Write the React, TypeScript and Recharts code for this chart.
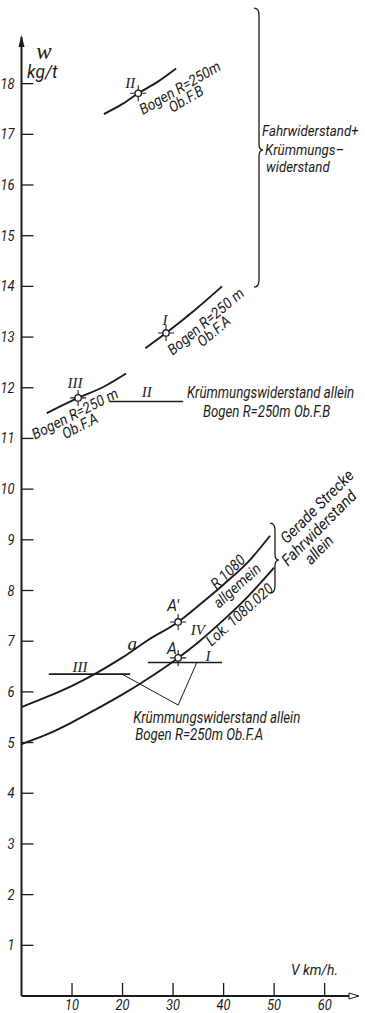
import { ComposedChart, Line, XAxis, YAxis, Scatter, ReferenceDot } from "recharts";

document.body.style.margin = "0";

// axis ticks
const V_TICKS = [10, 20, 30, 40, 50, 60];
const W_TICKS = [1, 2, 3, 4, 5, 6, 7, 8, 9, 10, 11, 12, 13, 14, 15, 16, 17, 18];

// straight track, R 1080 allgemein (curve a)
const allgV = [0, 5, 10, 15, 20, 25, 31, 35, 40, 45, 49.2];
const allgW = [5.7, 5.9, 6.12, 6.38, 6.68, 7.02, 7.38, 7.7, 8.12, 8.58, 9.08];

// straight track, Lok. 1080.020
const lokV = [0, 5, 10, 15, 20, 25, 31, 35, 40, 45, 50];
const lokW = [4.97, 5.16, 5.4, 5.67, 5.95, 6.26, 6.67, 6.98, 7.42, 7.9, 8.45];

// curve R=250m, running + curve resistance
const bogenIIV = [16.3, 20, 23.1, 27, 30.6];
const bogenIIW = [17.4, 17.6, 17.81, 18.04, 18.3];
const bogenIV = [24.5, 28.6, 34.5, 39.7];
const bogenIW = [12.78, 13.08, 13.55, 14.0];
const bogenIIIV = [5.0, 11.2, 16.1, 20.7];
const bogenIIIW = [11.5, 11.8, 12.01, 12.28];

// curve resistance alone (horizontal)
const kwIIV = [17.5, 32];
const kwIIW = [11.73, 11.73];
const kwIIIV = [5.4, 21.5];
const kwIIIW = [6.35, 6.35];
const kwIV = [25, 39.7];
const kwIW = [6.58, 6.58];

// leader lines to the lower note
const leaderV = [19.9, 31, 34.7];
const leaderW = [6.35, 5.74, 6.58];

// marked points A', A, II, I, III
const markV = [31, 31, 23.1, 28.6, 11.2];
const markW = [7.38, 6.67, 17.81, 13.08, 11.8];

const zip = (vs: number[], ws: number[]) => vs.map((v, i) => ({ v, w: ws[i] }));

const INK = "#1b1b1b";
const SANS = "Roboto, 'DejaVu Sans Condensed', sans-serif";
const SERIF = "'Liberation Serif', 'DejaVu Serif', serif";
const SQUEEZE = 0.92;

const XTick = ({ x, y, payload }: any) => (
  <g>
    <line x1={x} y1={y} x2={x} y2={y - 13} stroke={INK} strokeWidth={1.3} />
    <text
      transform={`translate(${x} ${y + 14}) scale(${SQUEEZE} 1)`}
      textAnchor="middle"
      fontFamily={SANS}
      fontStyle="italic"
      fontSize={14}
      fill={INK}
    >
      {payload.value}
    </text>
  </g>
);

const YTick = ({ x, y, payload }: any) => (
  <g>
    <line x1={x} y1={y} x2={x + 12} y2={y} stroke={INK} strokeWidth={1.3} />
    <text
      transform={`translate(${x - 7} ${y + 5}) scale(${SQUEEZE} 1)`}
      textAnchor="end"
      fontFamily={SANS}
      fontStyle="italic"
      fontSize={14}
      fill={INK}
    >
      {payload.value}
    </text>
  </g>
);

const Mark = ({ cx, cy }: any) => (
  <g stroke={INK} strokeWidth={1.1}>
    <line x1={cx - 8} y1={cy} x2={cx - 3} y2={cy} />
    <line x1={cx + 3} y1={cy} x2={cx + 8} y2={cy} />
    <line x1={cx} y1={cy - 8} x2={cx} y2={cy - 3} />
    <line x1={cx} y1={cy + 3} x2={cx} y2={cy + 8} />
    <circle cx={cx} cy={cy} r={3.2} fill="#fff" strokeWidth={1.3} />
  </g>
);

type NoteOpts = { angle?: number; size?: number; anchor?: string; serif?: boolean; sx?: number };

const note = (key: string, v: number, w: number, text: string, o: NoteOpts = {}) => (
  <ReferenceDot
    key={key}
    x={v}
    y={w}
    r={0}
    ifOverflow="visible"
    shape={(p: any) => (
      <text
        transform={`translate(${p.cx} ${p.cy}) rotate(${o.angle ?? 0}) scale(${o.sx ?? (o.serif ? 1 : SQUEEZE)} 1)`}
        textAnchor={o.anchor ?? "middle"}
        dominantBaseline={o.anchor === "start" ? "auto" : "central"}
        fontFamily={o.serif ? SERIF : SANS}
        fontStyle="italic"
        fontSize={o.size ?? 14}
        fill={INK}
      >
        {text}
      </text>
    )}
  />
);

const bracePath = (h1: number, h2: number) =>
  `M -9 ${-h1} Q -4 ${-h1} -4 ${-h1 + 7} L -4 -6 Q -4 0 0 0 Q -4 0 -4 6 L -4 ${h2 - 7} Q -4 ${h2} -9 ${h2}`;

const brace = (key: string, v: number, w: number, h1: number, h2: number) => (
  <ReferenceDot
    key={key}
    x={v}
    y={w}
    r={0}
    ifOverflow="visible"
    shape={(p: any) => (
      <path d={bracePath(h1, h2)} transform={`translate(${p.cx} ${p.cy})`} fill="none" stroke={INK} strokeWidth={1.3} />
    )}
  />
);

const curve = (key: string, vs: number[], ws: number[], type: "monotone" | "linear" = "monotone", width = 1.9) => (
  <Line
    key={key}
    data={zip(vs, ws)}
    dataKey="w"
    type={type}
    stroke={INK}
    strokeWidth={width}
    dot={false}
    activeDot={false}
    isAnimationActive={false}
  />
);

export default function App() {
  return (
    <div style={{ width: 365, height: 1013, background: "#fff" }}>
      <ComposedChart width={365} height={1013} margin={{ top: 37, right: 7, bottom: 0, left: 0 }}>
        <XAxis
          dataKey="v"
          type="number"
          domain={[0, 66.6]}
          ticks={V_TICKS}
          tick={<XTick />}
          tickSize={0}
          tickMargin={0}
          tickLine={false}
          height={17}
          axisLine={{ stroke: INK, strokeWidth: 2 }}
          allowDataOverflow
        />
        <YAxis
          dataKey="w"
          type="number"
          domain={[0, 18.92]}
          ticks={W_TICKS}
          tick={<YTick />}
          tickSize={0}
          tickMargin={0}
          tickLine={false}
          width={21.5}
          axisLine={{ stroke: INK, strokeWidth: 2 }}
          allowDataOverflow
        />

        {curve("allg", allgV, allgW)}
        {curve("lok", lokV, lokW)}
        {curve("b2", bogenIIV, bogenIIW)}
        {curve("b1", bogenIV, bogenIW)}
        {curve("b3", bogenIIIV, bogenIIIW)}
        {curve("k2", kwIIV, kwIIW, "linear", 1.6)}
        {curve("k3", kwIIIV, kwIIIW, "linear", 1.6)}
        {curve("k1", kwIV, kwIW, "linear", 1.6)}
        {curve("lead", leaderV, leaderW, "linear", 1)}

        <Scatter data={zip(markV, markW)} dataKey="w" shape={<Mark />} isAnimationActive={false} />

        {/* axis arrows */}
        <ReferenceDot
          x={0}
          y={18.92}
          r={0}
          ifOverflow="visible"
          shape={(p: any) => <path d={`M ${p.cx} ${p.cy - 2} L ${p.cx - 3} ${p.cy + 10} L ${p.cx + 3} ${p.cy + 10} Z`} fill={INK} />}
        />
        <ReferenceDot
          x={66.6}
          y={0}
          r={0}
          ifOverflow="visible"
          shape={(p: any) => (
            <path d={`M ${p.cx + 1} ${p.cy} L ${p.cx - 9} ${p.cy - 3} L ${p.cx - 9} ${p.cy + 3} Z`} fill="#fff" stroke={INK} strokeWidth={1} />
          )}
        />

        {/* axis titles */}
        {note("wsym", 4.45, 18.64, "w", { size: 23, serif: true })}
        {note("kgt", 4.1, 18.24, "kg/t", { size: 19 })}
        {note("vkmh", 58.0, 0.5, "V km/h.", { size: 15 })}

        {/* roman numerals and point names */}
        {note("r2t", 21.5, 18.01, "II", { serif: true, size: 15 })}
        {note("r1t", 28.4, 13.34, "I", { serif: true, size: 15 })}
        {note("r3t", 10.6, 12.09, "III", { serif: true, size: 15 })}
        {note("r2m", 24.8, 11.92, "II", { serif: true, size: 15 })}
        {note("r3l", 11.6, 6.49, "III", { serif: true, size: 15 })}
        {note("r1l", 36.9, 6.71, "I", { serif: true, size: 15 })}
        {note("r4", 34.9, 7.22, "IV", { serif: true, size: 15 })}
        {note("ap", 30.0, 7.71, "A'", { size: 17 })}
        {note("a0", 29.8, 6.87, "A", { size: 17 })}
        {note("alpha", 21.9, 6.96, "a", { serif: true, size: 19 })}

        {/* labels along the curves */}
        {note("b2a", 31.4, 17.91, "Bogen R=250m", { angle: -30, size: 15 })}
        {note("b2b", 32.6, 17.69, "Ob.F.B", { angle: -30, size: 15 })}
        {note("b1a", 36.5, 13.3, "Bogen R=250 m", { angle: -40, size: 15 })}
        {note("b1b", 38.1, 13.11, "Ob.F.A", { angle: -40, size: 15 })}
        {note("b3a", 10.6, 11.48, "Bogen R=250 m", { angle: -27, size: 15 })}
        {note("b3b", 11.6, 11.24, "Ob.F.A", { angle: -27, size: 15 })}
        {note("r1080", 40.9, 8.36, "R 1080", { angle: -44, size: 15 })}
        {note("allgm", 42.7, 8.09, "allgemein", { angle: -42, size: 15 })}
        {note("lok", 43.2, 7.52, "Lok. 1080.020", { angle: -42, size: 15 })}

        {/* straight track note */}
        {brace("brs", 50.96, 8.6, 37, 33)}
        {note("gs1", 58.5, 9.65, "Gerade  Strecke", { angle: -45, size: 16 })}
        {note("gs2", 58.9, 9.23, "Fahrwiderstand", { angle: -45, size: 16 })}
        {note("gs3", 58.9, 8.8, "allein", { angle: -45, size: 16 })}

        {/* running + curve resistance note */}
        {brace("brb", 47.8, 16.69, 142, 137)}
        {note("fk1", 47.6, 16.96, "Fahrwiderstand+", { anchor: "start", size: 15.5, sx: 0.86 })}
        {note("fk2", 48.2, 16.6, "Krümmungs–", { anchor: "start", size: 15.5, sx: 0.86 })}
        {note("fk3", 48.4, 16.26, "widerstand", { anchor: "start", size: 15.5, sx: 0.86 })}

        {/* curve resistance alone notes */}
        {note("kwo1", 32.75, 11.8, "Krümmungswiderstand allein", { anchor: "start", size: 16, sx: 0.83 })}
        {note("kwo2", 35.9, 11.42, "Bogen R=250m  Ob.F.B", { anchor: "start", size: 16, sx: 0.83 })}
        {note("kwu1", 22.1, 5.39, "Krümmungswiderstand allein", { anchor: "start", size: 16, sx: 0.83 })}
        {note("kwu2", 22.5, 5.05, "Bogen R=250m   Ob.F.A", { anchor: "start", size: 16, sx: 0.83 })}
      </ComposedChart>
    </div>
  );
}
